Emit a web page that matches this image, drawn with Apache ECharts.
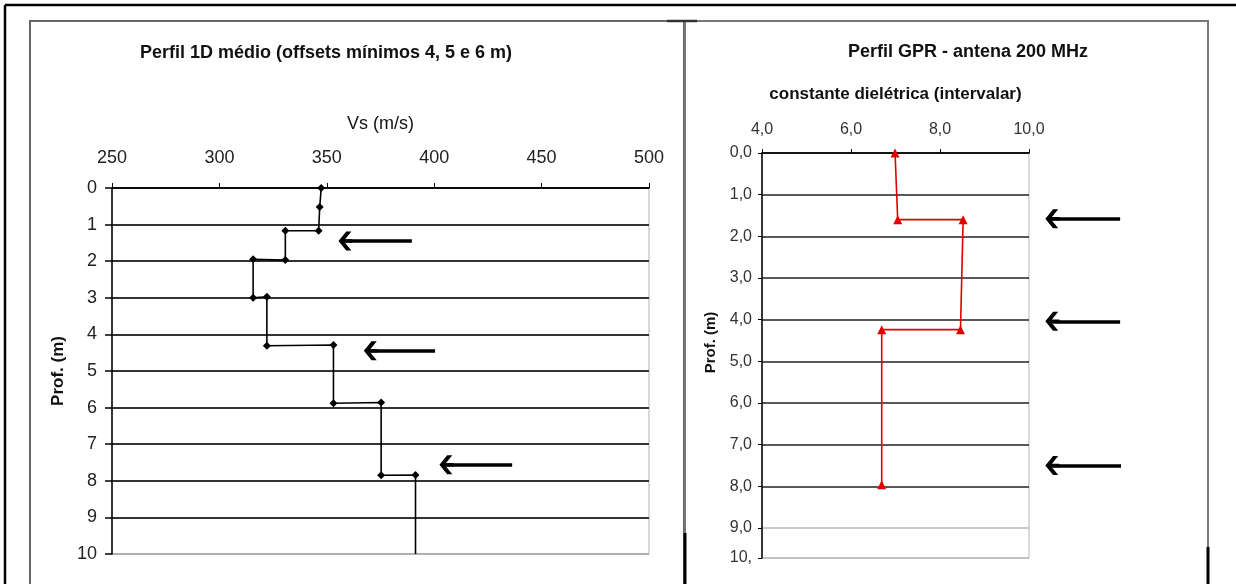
<!DOCTYPE html>
<html><head><meta charset="utf-8">
<script src="https://cdn.jsdelivr.net/npm/echarts@6/dist/echarts.min.js"></script>
<style>html,body{margin:0;padding:0;background:#fff}#c{width:1236px;height:584px}</style>
</head><body><div id="c"></div><script>
const SANS = '"Liberation Sans",Arial,sans-serif';

// Left chart: Vs step profile (m/s vs depth m)
const vsValues = [347.4, 346.7, 346.2, 330.7, 330.7, 315.7, 315.7, 322.1, 322.1, 353.1, 353.1, 375.3, 375.3, 391.3, 391.3];
const vsDepths = [0, 0.52, 1.17, 1.17, 1.97, 1.95, 3.0, 2.97, 4.31, 4.29, 5.88, 5.86, 7.85, 7.84, 10];
const vsMarked = [1, 1, 1, 1, 1, 1, 1, 1, 1, 1, 1, 1, 1, 1, 0];

// Right chart: dielectric constant step profile
const dielValues = [6.99, 7.05, 8.52, 8.46, 6.69, 6.69];
const dielDepths = [0, 1.60, 1.60, 4.24, 4.24, 7.96];

// Tick labels
const vsTicks = ['250', '300', '350', '400', '450', '500'];
const depthTicksLeft = ['0', '1', '2', '3', '4', '5', '6', '7', '8', '9', '10'];
const dielTicks = ['4,0', '6,0', '8,0', '10,0'];
const depthTicksRight = ['0,0', '1,0', '2,0', '3,0', '4,0', '5,0', '6,0', '7,0', '8,0', '9,0', '10,'];

// Arrow annotations (shaft tail, shaft end near head, depth)
const vsArrowTail = [389.6, 400.4, 436.3];
const vsArrowHead = [358.7, 370.5, 405.7];
const vsArrowDepth = [1.45, 4.45, 7.56];
const gprArrowTail = [12.03, 12.03, 12.05];
const gprArrowHead = [10.51, 10.51, 10.51];
const gprArrowDepth = [1.58, 4.04, 7.50];

const ARROW = 'path://M5,0 L10,5.5 L10,9.2 L5.9,4.7 L5.9,10 L4.1,10 L4.1,4.7 L0,9.2 L0,5.5 Z';

const chart = echarts.init(document.getElementById('c'), null, {renderer: 'canvas'});

const leftSplitColors = depthTicksLeft.map((t, i) => i === depthTicksLeft.length - 1 ? '#b0b0b0' : '#333');
const rightSplitColors = depthTicksRight.map((t, i) => i >= 9 ? '#b8b8b8' : '#222');

const option = {
  backgroundColor: '#fff',
  animation: false,
  title: [
    {text: 'Perfil 1D médio (offsets mínimos 4, 5 e 6 m)', left: 326, top: 44, padding: 0, textAlign: 'center',
     textStyle: {fontFamily: SANS, fontSize: 18, fontWeight: 'bold', color: '#111'}},
    {text: 'Perfil GPR - antena 200 MHz', left: 968, top: 43, padding: 0, textAlign: 'center',
     textStyle: {fontFamily: SANS, fontSize: 18, fontWeight: 'bold', color: '#111'}}
  ],
  grid: [
    {left: 112, top: 188, width: 537, height: 366, show: true, borderColor: '#b0b0b0', borderWidth: 1, backgroundColor: 'transparent'},
    {left: 762, top: 153, width: 267, height: 405, show: true, borderColor: '#b8b8b8', borderWidth: 1, backgroundColor: 'transparent'},
    {left: 762, top: 153, width: 446, height: 405}
  ],
  xAxis: [
    {type: 'value', gridIndex: 0, position: 'top', min: 250, max: 500, interval: 50,
     name: 'Vs (m/s)', nameLocation: 'middle', nameGap: 55,
     nameTextStyle: {fontFamily: SANS, fontSize: 18, color: '#111'},
     axisLine: {show: true, lineStyle: {color: '#000', width: 1.5}},
     axisTick: {show: true, inside: false, length: 5, lineStyle: {color: '#000', width: 1}},
     axisLabel: {margin: 21, fontFamily: SANS, fontSize: 18, color: '#222',
                 formatter: (v) => vsTicks[Math.round((v - 250) / 50)]},
     splitLine: {show: false}},
    {type: 'value', gridIndex: 1, position: 'top', min: 4, max: 10, interval: 2,
     name: 'constante dielétrica (intervalar)', nameLocation: 'middle', nameGap: 50,
     nameTextStyle: {fontFamily: SANS, fontSize: 17, fontWeight: 'bold', color: '#111'},
     axisLine: {show: true, lineStyle: {color: '#000', width: 1.5}},
     axisTick: {show: true, inside: false, length: 4, lineStyle: {color: '#000', width: 1}},
     axisLabel: {margin: 15, fontFamily: SANS, fontSize: 16, color: '#333',
                 formatter: (v) => dielTicks[Math.round((v - 4) / 2)]},
     splitLine: {show: false}},
    {type: 'value', gridIndex: 2, min: 4, max: 14, show: false}
  ],
  yAxis: [
    {type: 'value', gridIndex: 0, inverse: true, min: 0, max: 10, interval: 1,
     name: 'Prof. (m)', nameLocation: 'middle', nameGap: 45, nameRotate: 90,
     nameTextStyle: {fontFamily: SANS, fontSize: 17, fontWeight: 'bold', color: '#111'},
     axisLine: {show: true, lineStyle: {color: '#000', width: 1.5}},
     axisTick: {show: true, inside: false, length: 7, lineStyle: {color: '#000', width: 1.5}},
     axisLabel: {margin: 15, fontFamily: SANS, fontSize: 18, color: '#222',
                 formatter: (v, i) => depthTicksLeft[i]},
     splitLine: {show: true, lineStyle: {color: leftSplitColors, width: 2}}},
    {type: 'value', gridIndex: 1, inverse: true, min: 0, max: 9.72, interval: 1,
     name: 'Prof. (m)', nameLocation: 'middle', nameGap: 44, nameRotate: 90,
     nameTextStyle: {fontFamily: SANS, fontSize: 15, fontWeight: 'bold', color: '#111', padding: [0, 0, 0, 26]},
     axisLine: {show: true, lineStyle: {color: '#000', width: 1.5}},
     axisTick: {show: true, inside: false, length: 4, lineStyle: {color: '#000', width: 1}},
     axisLabel: {margin: 10, fontFamily: SANS, fontSize: 16, color: '#333',
                 formatter: (v, i) => depthTicksRight[i]},
     splitLine: {show: true, lineStyle: {color: rightSplitColors, width: 1.5}}},
    {type: 'value', gridIndex: 2, inverse: true, min: 0, max: 9.72, show: false}
  ],
  series: [
    {type: 'line', xAxisIndex: 0, yAxisIndex: 0, clip: false, z: 4,
     data: vsValues.map((v, i) => ({value: [v, vsDepths[i]], symbolSize: vsMarked[i] ? 8 : 0})),
     symbol: 'diamond', symbolSize: 8, showSymbol: true,
     lineStyle: {color: '#000', width: 1.6}, itemStyle: {color: '#000'}},
    {type: 'line', xAxisIndex: 1, yAxisIndex: 1, clip: false, z: 4,
     data: dielValues.map((v, i) => [v, dielDepths[i]]),
     symbol: 'triangle', symbolSize: 9, showSymbol: true,
     lineStyle: {color: '#e00000', width: 1.6}, itemStyle: {color: '#e00000'}},
    {type: 'lines', coordinateSystem: 'cartesian2d', xAxisIndex: 0, yAxisIndex: 0, silent: true, z: 5,
     symbol: ['none', ARROW], symbolSize: [[19, 14], [19, 14]],
     lineStyle: {color: '#000', width: 3.5, opacity: 1, curveness: 0},
     data: vsArrowTail.map((t, i) => ({coords: [[t, vsArrowDepth[i]], [vsArrowHead[i], vsArrowDepth[i]]]}))},
    {type: 'lines', coordinateSystem: 'cartesian2d', xAxisIndex: 2, yAxisIndex: 2, silent: true, z: 5,
     symbol: ['none', ARROW], symbolSize: [[19, 14], [19, 14]],
     lineStyle: {color: '#000', width: 3.5, opacity: 1, curveness: 0},
     data: gprArrowTail.map((t, i) => ({coords: [[t, gprArrowDepth[i]], [gprArrowHead[i], gprArrowDepth[i]]]}))}
  ],
  graphic: [
    {type: 'line', silent: true, shape: {x1: 5, y1: 5, x2: 1236, y2: 5}, style: {stroke: '#000', lineWidth: 2.5}},
    {type: 'line', silent: true, shape: {x1: 5, y1: 5, x2: 5, y2: 584}, style: {stroke: '#000', lineWidth: 2.5}},
    {type: 'rect', silent: true, shape: {x: 30, y: 21, width: 654, height: 600}, style: {fill: 'none', stroke: '#666', lineWidth: 2}},
    {type: 'rect', silent: true, shape: {x: 685, y: 21, width: 523, height: 600}, style: {fill: 'none', stroke: '#777', lineWidth: 2}},
    {type: 'line', silent: true, shape: {x1: 667, y1: 21, x2: 697, y2: 21}, style: {stroke: '#333', lineWidth: 2.5}},
    {type: 'line', silent: true, shape: {x1: 685, y1: 533, x2: 685, y2: 584}, style: {stroke: '#000', lineWidth: 3}},
    {type: 'line', silent: true, shape: {x1: 1208, y1: 547, x2: 1208, y2: 584}, style: {stroke: '#000', lineWidth: 3}}
  ]
};
chart.setOption(option);
</script></body></html>
